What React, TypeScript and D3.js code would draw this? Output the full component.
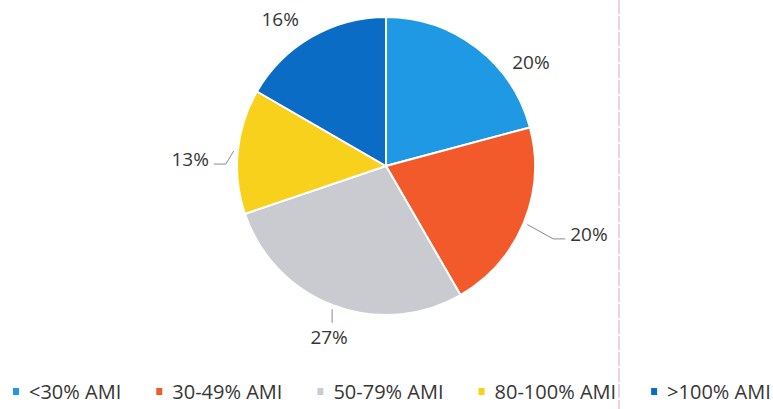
import { useEffect, useRef } from "react";
import * as d3 from "d3";

// slice data (Excel rounds the labels, so they sum to 96)
const categories = ["<30% AMI", "30-49% AMI", "50-79% AMI", "80-100% AMI", ">100% AMI"];
const shares = [20, 20, 27, 13, 16];
const colors = ["#1f99e4", "#f25a2c", "#c9cbd0", "#f8d11c", "#0b6cc6"];

// label placement relative to each slice's mid angle (degrees / px from centre)
const labelShift = [17, -4, -2.3, -3.6, -5.8];
const labelRadius = [178, 214, 181, 196, 181];
const leaderType = ["none", "right", "down", "left", "none"];

const W = 773;
const H = 409;

export default function App() {
  const ref = useRef<SVGSVGElement>(null);

  useEffect(() => {
    if (!ref.current) return;
    const svg = d3.select(ref.current);
    svg.selectAll("*").remove();

    const cx = 386;
    const cy = 166;
    const r = 149;
    const font = "'Open Sans', 'Noto Sans', sans-serif";

    // pink guide line from the scanned page
    svg.append("line")
      .attr("x1", 619).attr("x2", 619)
      .attr("y1", 0).attr("y2", H)
      .attr("stroke", "#e6c2d6")
      .attr("stroke-width", 1.5)
      .attr("stroke-dasharray", "14,2");

    const pie = d3.pie<number>().sort(null).value(d => d);
    const arcs = pie(shares);
    const arc = d3.arc<d3.PieArcDatum<number>>().innerRadius(0).outerRadius(r);

    const g = svg.append("g").attr("transform", `translate(${cx},${cy})`);

    g.selectAll("path.slice")
      .data(arcs)
      .enter()
      .append("path")
      .attr("class", "slice")
      .attr("d", arc)
      .attr("fill", (d, i) => colors[i])
      .attr("stroke", "#fff")
      .attr("stroke-width", 2);

    const polar = (a: number, rr: number): [number, number] => [Math.sin(a) * rr, -Math.cos(a) * rr];

    arcs.forEach((d, i) => {
      const mid = (d.startAngle + d.endAngle) / 2;
      const la = mid + (labelShift[i] * Math.PI) / 180;
      const [lx, ly] = polar(la, labelRadius[i]);

      const t = g.append("text")
        .attr("x", lx)
        .attr("y", ly)
        .attr("dy", "0.35em")
        .attr("text-anchor", "middle")
        .attr("font-family", font)
        .attr("font-size", 19)
        .attr("fill", "#363636")
        .text(`${shares[i]}%`);

      const bb = (t.node() as SVGTextElement).getBBox();
      const start = polar(mid, r + 4);
      let pts: [number, number][] = [];
      if (leaderType[i] === "right") {
        const ex = bb.x - 5;
        const ey = ly + 5;
        pts = [start, [ex - 12, ey], [ex, ey]];
      } else if (leaderType[i] === "left") {
        const ex = bb.x + bb.width + 5;
        const ey = ly + 5;
        pts = [start, [ex + 12, ey], [ex, ey]];
      } else if (leaderType[i] === "down") {
        pts = [start, [start[0], ly - 15]];
      }
      if (pts.length) {
        g.append("path")
          .attr("d", d3.line()(pts))
          .attr("fill", "none")
          .attr("stroke", "#8a8a8a")
          .attr("stroke-width", 1);
      }
    });

    // legend, flowing left to right
    const legend = svg.append("g");
    let x = 13;
    const ly = 392;
    categories.forEach((c, i) => {
      legend.append("rect")
        .attr("x", x)
        .attr("y", ly - 4)
        .attr("width", 6)
        .attr("height", 7)
        .attr("fill", colors[i]);
      const t = legend.append("text")
        .attr("x", x + 16)
        .attr("y", ly)
        .attr("dy", "0.35em")
        .attr("font-family", font)
        .attr("font-size", 20)
        .attr("fill", "#363636")
        .text(c);
      const w = (t.node() as SVGTextElement).getComputedTextLength();
      x = x + 16 + w + 35;
    });
  }, []);

  return (
    <svg
      ref={ref}
      width={W}
      height={H}
      style={{ position: "absolute", left: 0, top: 0, background: "#fff" }}
    />
  );
}
